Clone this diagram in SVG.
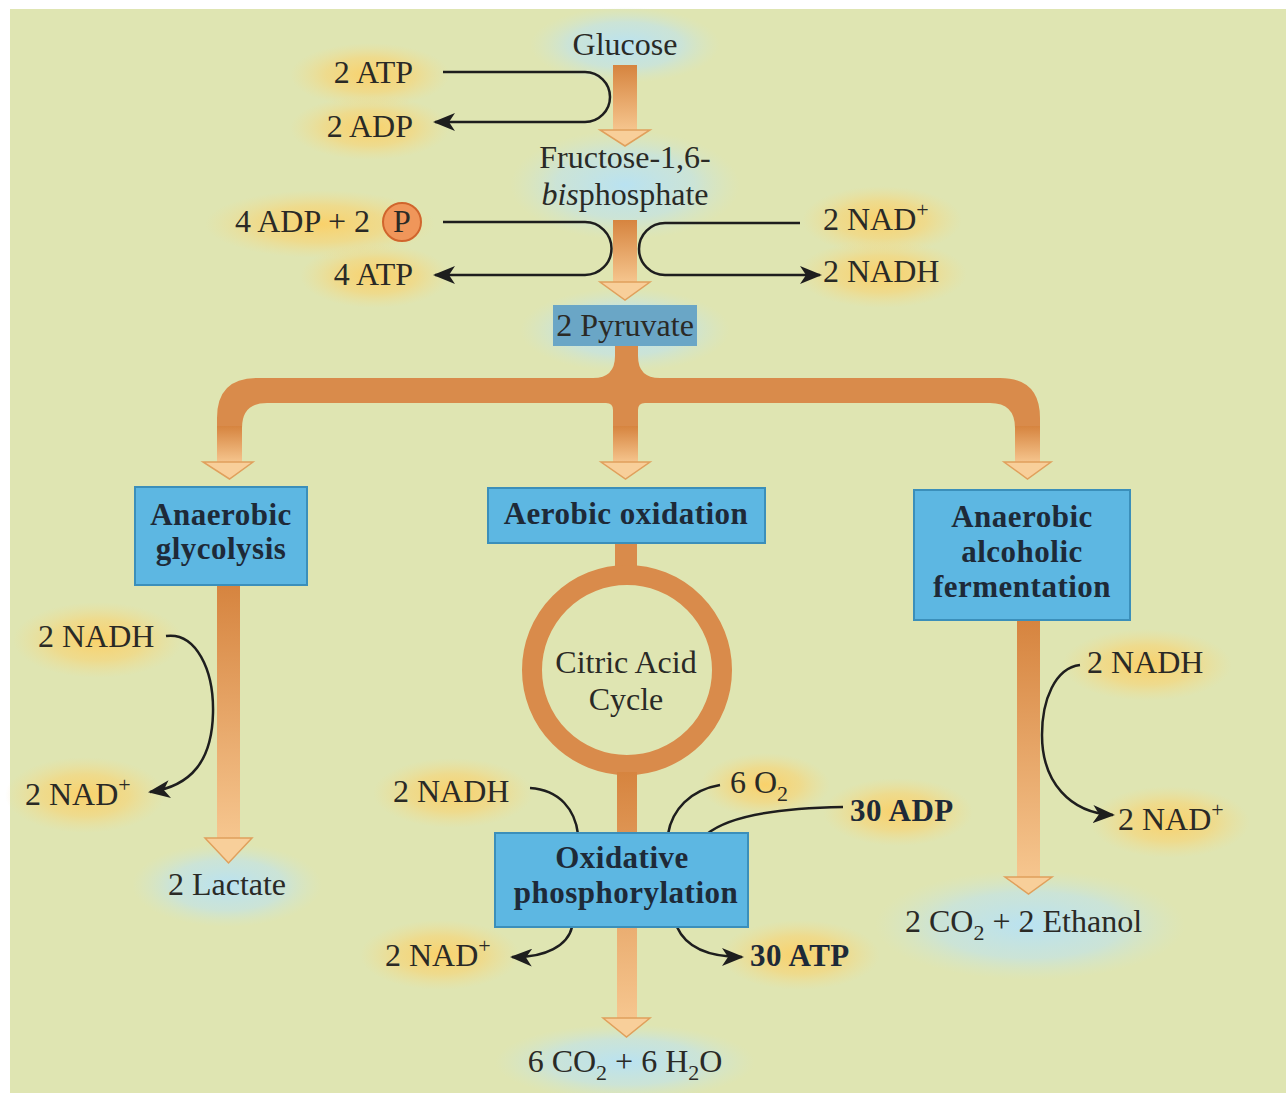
<svg xmlns="http://www.w3.org/2000/svg" width="1286" height="1093" viewBox="0 0 1286 1093">
<defs>
<style>
.t{font-family:"Liberation Serif","Times New Roman",serif;font-size:32px;fill:#2a2a26}
.b{font-family:"Liberation Serif","Times New Roman",serif;font-size:31px;font-weight:bold;fill:#1e2a38;letter-spacing:0.5px}
.box{fill:#5db7e2;stroke:#3b8fba;stroke-width:2}
.ln{fill:none;stroke:#1e1e1e;stroke-width:2.5}
.lna{fill:none;stroke:#1e1e1e;stroke-width:2.5;marker-end:url(#ah)}
.head{fill:#f8cf9a;stroke:#e0a05c;stroke-width:1.5}
.org{fill:#d98b4b}
.fl{fill:url(#flow)}
.yg{fill:url(#yglow)}
.bg{fill:url(#bglow)}
</style>
<linearGradient id="flow" x1="0" y1="0" x2="0" y2="1">
<stop offset="0" stop-color="#d6843f"/>
<stop offset="1" stop-color="#f6c68f"/>
</linearGradient>
<radialGradient id="yglow">
<stop offset="0" stop-color="#fbd066" stop-opacity="0.95"/>
<stop offset="0.55" stop-color="#f8d475" stop-opacity="0.6"/>
<stop offset="1" stop-color="#f3dc8c" stop-opacity="0"/>
</radialGradient>
<radialGradient id="bglow">
<stop offset="0" stop-color="#b9e2f1" stop-opacity="1"/>
<stop offset="0.6" stop-color="#c3e3e6" stop-opacity="0.7"/>
<stop offset="1" stop-color="#d2e6d0" stop-opacity="0"/>
</radialGradient>
<marker id="ah" viewBox="0 0 22 18" refX="20" refY="9" markerWidth="22" markerHeight="18" markerUnits="userSpaceOnUse" orient="auto">
<path d="M0,0 L22,9 L0,18 L6,9 Z" fill="#1e1e1e"/>
</marker>
</defs>

<rect width="1286" height="1093" fill="#ffffff"/>
<rect x="10" y="9" width="1276" height="1084" fill="#dfe5b2"/>

<g id="glows">
<ellipse class="bg" cx="625" cy="45" rx="95" ry="38"/>
<ellipse class="bg" cx="625" cy="185" rx="115" ry="55"/>
<ellipse class="bg" cx="625" cy="330" rx="105" ry="42"/>
<ellipse class="bg" cx="227" cy="885" rx="95" ry="42"/>
<ellipse class="bg" cx="625" cy="1062" rx="130" ry="38"/>
<ellipse class="bg" cx="1030" cy="925" rx="155" ry="55"/>
<ellipse class="yg" cx="370" cy="75" rx="80" ry="32"/>
<ellipse class="yg" cx="370" cy="128" rx="80" ry="32"/>
<ellipse class="yg" cx="320" cy="224" rx="115" ry="34"/>
<ellipse class="yg" cx="375" cy="276" rx="75" ry="32"/>
<ellipse class="yg" cx="882" cy="220" rx="80" ry="34"/>
<ellipse class="yg" cx="882" cy="274" rx="85" ry="34"/>
<ellipse class="yg" cx="98" cy="640" rx="85" ry="38"/>
<ellipse class="yg" cx="85" cy="795" rx="80" ry="38"/>
<ellipse class="yg" cx="453" cy="793" rx="80" ry="35"/>
<ellipse class="yg" cx="765" cy="785" rx="65" ry="32"/>
<ellipse class="yg" cx="898" cy="812" rx="75" ry="34"/>
<ellipse class="yg" cx="440" cy="955" rx="80" ry="35"/>
<ellipse class="yg" cx="800" cy="955" rx="80" ry="35"/>
<ellipse class="yg" cx="1147" cy="665" rx="85" ry="36"/>
<ellipse class="yg" cx="1170" cy="822" rx="80" ry="36"/>
</g>

<g id="connectors">
<g id="flow-arrows">
<rect class="fl" x="613" y="65" width="24" height="66"/>
<polygon class="head" points="600,130 650,130 625,146"/>
<rect class="fl" x="613" y="220" width="24" height="63"/>
<polygon class="head" points="600,282 650,282 625,300"/>
<path class="org" d="M615 345 H638 V356 Q638 378 660 378 H1000 Q1040 378 1040 418 V428 H1015 Q1015 403 990 403 H645 Q638 403 638 410 V428 H613 V410 Q613 403 606 403 H267 Q242 403 242 428 H217 V418 Q217 378 257 378 H593 Q615 378 615 356 Z"/>
<rect class="fl" x="217" y="426" width="25" height="37"/>
<rect class="fl" x="613" y="426" width="25" height="37"/>
<rect class="fl" x="1015" y="426" width="25" height="37"/>
<polygon class="head" points="203,462 253,462 229.5,479"/>
<polygon class="head" points="601,462 650,462 625.5,479"/>
<polygon class="head" points="1004,462 1051,462 1027.5,479"/>
<rect class="fl" x="217" y="585" width="23" height="254"/>
<polygon class="head" points="205,838 252,838 228.5,863"/>
<rect class="org" x="615" y="542" width="22" height="26"/>
<circle cx="627" cy="670" r="95" fill="none" stroke="#d98b4b" stroke-width="20"/>
<rect class="fl" x="617" y="772" width="20" height="247"/>
<polygon class="head" points="603,1018 650,1018 626.5,1037"/>
<rect class="fl" x="1017" y="620" width="23" height="258"/>
<polygon class="head" points="1005,877 1052,877 1028.5,894"/>
</g>
<path class="lna" d="M443 72 H585 A25 25 0 0 1 585 122 H435"/>
<path class="lna" d="M443 222 H585 A26.5 26.5 0 0 1 585 275 H435"/>
<path class="lna" d="M800 223 H665 A26 26 0 0 0 665 275 H820"/>
<path class="lna" d="M166 636 C196 632 214 670 213 713 C212 760 192 786 150 792"/>
<path class="lna" d="M1080 665 C1055 668 1042 700 1042 735 C1042 782 1070 813 1113 815"/>
<path class="ln" d="M530 788 C560 790 575 810 578 834"/>
<path class="ln" d="M720 785 C690 790 672 810 668 834"/>
<path class="ln" d="M843 807 C780 808 730 815 707 834"/>
<path class="lna" d="M572 927 C568 945 546 958 512 957"/>
<path class="lna" d="M677 927 C685 945 705 957 742 957"/>
</g>

<g id="n-glucose"><text class="t" x="625" y="55" text-anchor="middle">Glucose</text></g>
<g id="n-2atp"><text class="t" x="413" y="83" text-anchor="end">2 ATP</text></g>
<g id="n-2adp"><text class="t" x="413" y="137" text-anchor="end">2 ADP</text></g>
<g id="n-fructose"><text class="t" x="625" y="168" text-anchor="middle">Fructose-1,6-</text><text class="t" x="625" y="205" text-anchor="middle"><tspan font-style="italic">bis</tspan>phosphate</text></g>
<g id="n-4adp"><text class="t" x="235" y="232">4 ADP + 2</text><circle cx="402" cy="222" r="19" fill="#f0965a" stroke="#d0652d" stroke-width="2"/><text class="t" x="402" y="232" text-anchor="middle" font-size="28">P</text></g>
<g id="n-4atp"><text class="t" x="413" y="285" text-anchor="end">4 ATP</text></g>
<g id="n-nad-top"><text class="t" x="823" y="230">2 NAD<tspan font-size="22" dy="-13">+</tspan></text></g>
<g id="n-nadh-top"><text class="t" x="823" y="282">2 NADH</text></g>
<g id="n-pyruvate"><rect x="553" y="305" width="144" height="41" fill="#6aa6c6"/><text class="t" x="625" y="336" text-anchor="middle">2 Pyruvate</text></g>

<g id="n-anaerobic-glycolysis"><rect class="box" x="135" y="487" width="172" height="98"/><text class="b" x="221" y="525" text-anchor="middle">Anaerobic</text><text class="b" x="221" y="559" text-anchor="middle">glycolysis</text></g>
<g id="n-aerobic"><rect class="box" x="488" y="488" width="277" height="55"/><text class="b" x="626" y="524" text-anchor="middle">Aerobic oxidation</text></g>
<g id="n-alcoholic"><rect class="box" x="914" y="490" width="216" height="130"/><text class="b" x="1022" y="527" text-anchor="middle">Anaerobic</text><text class="b" x="1022" y="562" text-anchor="middle">alcoholic</text><text class="b" x="1022" y="597" text-anchor="middle">fermentation</text></g>

<g id="n-nadh-left"><text class="t" x="38" y="647">2 NADH</text></g>
<g id="n-nad-left"><text class="t" x="25" y="805">2 NAD<tspan font-size="22" dy="-13">+</tspan></text></g>
<g id="n-lactate"><text class="t" x="227" y="895" text-anchor="middle">2 Lactate</text></g>

<g id="n-citric"><text class="t" x="626" y="673" text-anchor="middle">Citric Acid</text><text class="t" x="626" y="710" text-anchor="middle">Cycle</text></g>
<g id="n-nadh-center"><text class="t" x="393" y="802">2 NADH</text></g>
<g id="n-o2"><text class="t" x="730" y="793">6 O<tspan font-size="22" dy="8">2</tspan></text></g>
<g id="n-30adp"><text class="b" x="850" y="821">30 ADP</text></g>
<g id="n-oxphos"><rect class="box" x="495" y="833" width="253" height="94"/><text class="b" x="622" y="868" text-anchor="middle">Oxidative</text><text class="b" x="626" y="903" text-anchor="middle">phosphorylation</text></g>
<g id="n-nad-center"><text class="t" x="385" y="966">2 NAD<tspan font-size="22" dy="-13">+</tspan></text></g>
<g id="n-30atp"><text class="b" x="750" y="966">30 ATP</text></g>
<g id="n-co2-h2o"><text class="t" x="625" y="1072" text-anchor="middle">6 CO<tspan font-size="22" dy="8">2</tspan><tspan dy="-8"> + 6 H</tspan><tspan font-size="22" dy="8">2</tspan><tspan dy="-8">O</tspan></text></g>

<g id="n-nadh-right"><text class="t" x="1087" y="673">2 NADH</text></g>
<g id="n-nad-right"><text class="t" x="1118" y="830">2 NAD<tspan font-size="22" dy="-13">+</tspan></text></g>
<g id="n-ethanol"><text class="t" x="905" y="932">2 CO<tspan font-size="22" dy="8">2</tspan><tspan dy="-8"> + 2 Ethanol</tspan></text></g>
</svg>
